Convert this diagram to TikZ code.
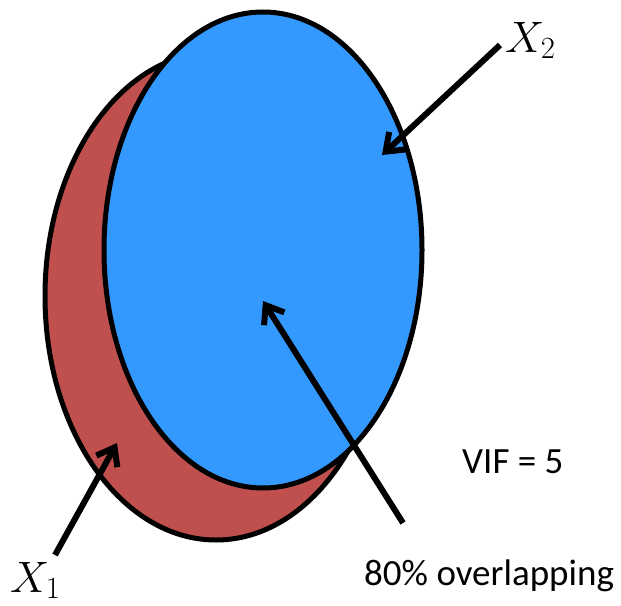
\documentclass[tikz,border=0pt]{standalone}
\usepackage{fix-cm}
\usepackage{fontspec}
\setsansfont{Carlito}
\usetikzlibrary{arrows.meta,shapes.geometric}
\definecolor{brick}{HTML}{C0504D}
\definecolor{sky}{HTML}{3399FF}
\tikzset{
  setblob/.style={ellipse,draw=black,line width=5pt,inner sep=0pt},
  pointer/.style={-{Straight Barb[length=16pt,width=24pt]},line width=6pt,black},
  varlabel/.style={inner sep=0pt,anchor=base west,font=\fontsize{44}{44}\selectfont},
  notelabel/.style={inner sep=0pt,anchor=base west,font=\sffamily\fontsize{37}{40}\selectfont}
}

\begin{document}
\begin{tikzpicture}[x=1pt,y=-1pt]
  \useasboundingbox (0,0) rectangle (621,605);
  \node[setblob,fill=brick,minimum width=342pt,minimum height=488pt] (x1set) at (216,296) {};
  \node[setblob,fill=sky,minimum width=318pt,minimum height=476pt] (x2set) at (263,250) {};
  \node[varlabel] (x1lab) at (10,592) {$X_1$};
  \node[varlabel] (x2lab) at (505,52) {$X_2$};
  \node[notelabel] (vif) at (462,473) {VIF = 5};
  \node[notelabel] (overlap) at (364,585) {80\% overlapping};
  \coordinate (x1tail) at (55,555);
  \coordinate (x1tip) at (117,443);
  \coordinate (x2tail) at (500,45);
  \coordinate (x2tip) at (382,155);
  \coordinate (ovtail) at (403,523);
  \coordinate (ovtip) at (263,301);
  \draw[pointer] (x1tail) -- (x1tip);
  \draw[pointer] (x2tail) -- (x2tip);
  \draw[pointer] (ovtail) -- (ovtip);
\end{tikzpicture}
\end{document}
